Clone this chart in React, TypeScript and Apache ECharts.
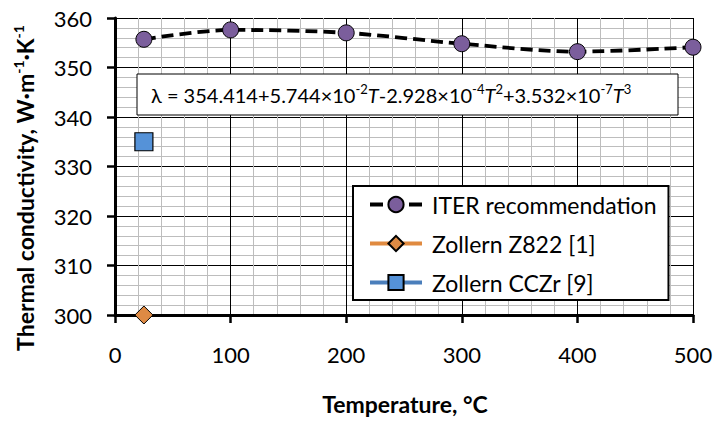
import React, { useEffect, useRef } from 'react';
import * as echarts from 'echarts';

const iterT = [25, 100, 200, 300, 400, 500];
const iterK = [355.7, 357.6, 357.0, 354.8, 353.2, 354.1];
const z822T = [25];
const z822K = [300];
const cczrT = [25];
const cczrK = [335];
const seriesNames = ['ITER recommendation', 'Zollern Z822 [1]', 'Zollern CCZr [9]'];
const xMin = 0, xMax = 500, xStep = 100;
const yMin = 300, yMax = 360, yStep = 10;

const FONT = 'Lato, "Open Sans", "DejaVu Sans", sans-serif';

export default function App() {
  const ref = useRef<HTMLDivElement>(null);
  useEffect(() => {
    const chart = echarts.init(ref.current!, null, { renderer: 'svg' });
    const zip = (xs: number[], ys: number[]) => xs.map((x, i) => [x, ys[i]]);
    const axisLabel = { color: '#000', fontSize: 22, fontFamily: FONT };
    chart.setOption({
      animation: false,
      backgroundColor: '#fff',
      grid: { left: 115, right: 26, top: 18, bottom: 108, containLabel: false, outerBoundsMode: 'none' },
      xAxis: {
        type: 'value', min: xMin, max: xMax, interval: xStep,
        axisLine: { show: true, lineStyle: { color: '#000', width: 3 } },
        axisTick: { show: true, inside: false, length: 8, lineStyle: { color: '#000', width: 2.5 } },
        axisLabel: { ...axisLabel, margin: 28 },
        splitLine: { show: true, lineStyle: { color: '#000', width: 1 } },
        minorTick: { show: false, splitNumber: 5 },
        minorSplitLine: { show: true, lineStyle: { color: '#bdbdbd', width: 1 } },
      },
      yAxis: {
        type: 'value', min: yMin, max: yMax, interval: yStep, position: 'left',
        axisLine: { show: true, lineStyle: { color: '#000', width: 3 } },
        axisTick: { show: true, inside: false, length: 8, lineStyle: { color: '#000', width: 2.5 } },
        axisLabel: { ...axisLabel, margin: 23 },
        splitLine: { show: true, lineStyle: { color: '#000', width: 1 } },
        minorTick: { show: false, splitNumber: 5 },
        minorSplitLine: { show: true, lineStyle: { color: '#bdbdbd', width: 1 } },
      },
      legend: {
        show: true,
        orient: 'vertical',
        left: 353, top: 186,
        data: [
          { name: seriesNames[0], lineStyle: { width: 4, type: [13, 26], color: '#000' } },
          { name: seriesNames[1], lineStyle: { width: 4, color: '#e08a40' } },
          { name: seriesNames[2], lineStyle: { width: 4, color: '#4a7ebb' } },
        ],
        backgroundColor: '#fff',
        borderColor: '#000', borderWidth: 2,
        padding: [6, 12, 5, 15],
        itemWidth: 52, itemHeight: 19,
        itemGap: 14,
        textStyle: { color: '#000', fontSize: 23, fontFamily: FONT, padding: [0, 0, 0, 5], lineHeight: 25 },
      },
      graphic: [
        {
          type: 'rect', shape: { x: 137, y: 74, width: 541, height: 41 },
          style: { fill: '#fff', stroke: '#000', lineWidth: 1 }, z: 50,
        },
        {
          type: 'text', x: 151, y: 95, z: 51,
          style: {
            text: '{n|λ = 354.414+5.744×10}{s|-2}{i|T}{n|-2.928×10}{s|-4}{i|T}{s|2}{n|+3.532×10}{s|-7}{i|T}{s|3}',
            textVerticalAlign: 'middle', verticalAlign: 'middle',
            rich: {
              n: { fontSize: 20, lineHeight: 26, fontFamily: FONT, fill: '#000' },
              i: { fontSize: 20, lineHeight: 26, fontFamily: FONT, fontStyle: 'italic', fill: '#000' },
              s: { fontSize: 13, lineHeight: 17, fontFamily: FONT, fill: '#000', verticalAlign: 'top' },
            },
          },
        },
        {
          type: 'text', x: 25, y: 188, rotation: Math.PI / 2, z: 51,
          style: {
            text: '{b|Thermal conductivity, W·m}{s|-1}{b|·K}{s|-1}',
            align: 'center', verticalAlign: 'middle',
            rich: {
              b: { fontSize: 23, lineHeight: 28, fontFamily: FONT, fontWeight: 'bold', fill: '#000' },
              s: { fontSize: 14, lineHeight: 17, fontFamily: FONT, fontWeight: 'bold', fill: '#000', verticalAlign: 'top' },
            },
          },
        },
        {
          type: 'text', x: 405, y: 404, z: 51,
          style: {
            text: 'Temperature, °C', align: 'center', verticalAlign: 'middle',
            fontSize: 23, fontFamily: FONT, fontWeight: 'bold', fill: '#000',
          },
        },
      ],
      series: [
        {
          name: seriesNames[0], type: 'line', data: zip(iterT, iterK), smooth: 0.3,
          symbol: 'circle', symbolSize: 16, clip: false,
          lineStyle: { color: '#000', width: 3.8, type: [12, 6] },
          itemStyle: { color: '#7b5e9c', borderColor: '#000', borderWidth: 1 },
          z: 10,
        },
        {
          name: seriesNames[1], type: 'line', data: zip(z822T, z822K),
          symbol: 'diamond', symbolSize: 18, clip: false,
          lineStyle: { color: '#e08a40', width: 4 },
          itemStyle: { color: '#de8a44', borderColor: '#000', borderWidth: 1 },
          z: 10,
        },
        {
          name: seriesNames[2], type: 'line', data: zip(cczrT, cczrK),
          symbol: 'rect', symbolSize: 18, clip: false,
          lineStyle: { color: '#4a7ebb', width: 4 },
          itemStyle: { color: '#5592d8', borderColor: '#000', borderWidth: 1.2 },
          z: 10,
        },
      ],
    });
    return () => chart.dispose();
  }, []);
  return <div ref={ref} style={{ position: 'absolute', left: 0, top: 0, width: 719, height: 423 }} />;
}
